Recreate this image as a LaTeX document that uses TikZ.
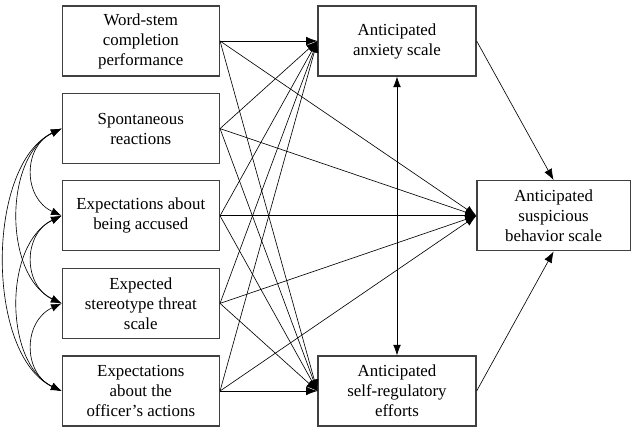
\documentclass[tikz,border=0pt]{standalone}
\usepackage{fontspec}
\setmainfont{Liberation Serif}
\usetikzlibrary{arrows.meta}

\begin{document}
\begin{tikzpicture}[
		var/.style={draw=black!75, line width=0.9pt, align=center, minimum height=1.75cm, inner sep=2pt, font=\fontsize{12}{14.2}\selectfont},
		pred/.style={var, minimum width=3.93cm},
		path/.style={line width=0.45pt, -{Latex[length=8pt, width=6pt]}},
		cov/.style={line width=0.45pt, {Latex[length=7.5pt, width=5.5pt]}-{Latex[length=7.5pt, width=5.5pt]}}
	]
			%%%%% START %%%%%
			
			\useasboundingbox (0, 0) rectangle (15.775, 10.775);
			
			% predictors
			\node[pred] (wordstem) at (3.52, 9.75) {Word-stem\\completion\\performance};
			\node[pred] (spont) at (3.52, 7.56) {Spontaneous\\reactions};
			\node[pred] (accused) at (3.52, 5.38) {Expectations about\\being accused};
			\node[pred] (threat) at (3.52, 3.19) {Expected\\stereotype threat\\scale};
			\node[pred] (officer) at (3.52, 1.0) {Expectations\\about the\\officer’s actions};
			
			% mediators and outcome
			\node[var, minimum width=3.95cm] (anxiety) at (9.925, 9.75) {Anticipated\\anxiety scale};
			\node[var, minimum width=3.95cm] (selfreg) at (9.925, 1.0) {Anticipated\\self-regulatory\\efforts};
			\node[var, minimum width=3.83cm] (suspic) at (13.84, 5.38) {Anticipated\\suspicious\\behavior scale};
			
			% paths from the predictors
			\draw[path] (wordstem.east) -- (anxiety.west);
			\draw[path] (wordstem.east) -- (suspic.west);
			\draw[path] (wordstem.east) -- (selfreg.west);
			
			\draw[path] (spont.east) -- (anxiety.west);
			\draw[path] (spont.east) -- (suspic.west);
			\draw[path] (spont.east) -- (selfreg.west);
			
			\draw[path] (accused.east) -- (anxiety.west);
			\draw[path] (accused.east) -- (suspic.west);
			\draw[path] (accused.east) -- (selfreg.west);
			
			\draw[path] (threat.east) -- (anxiety.west);
			\draw[path] (threat.east) -- (suspic.west);
			\draw[path] (threat.east) -- (selfreg.west);
			
			\draw[path] (officer.east) -- (anxiety.west);
			\draw[path] (officer.east) -- (suspic.west);
			\draw[path] (officer.east) -- (selfreg.west);
			
			% mediators to outcome
			\draw[path] (anxiety.east) -- (suspic.north);
			\draw[path] (selfreg.east) -- (suspic.south);
			\draw[cov] (anxiety.south) -- (selfreg.north);
			
			% covariances between the predictors
			\draw[cov] (spont.west) .. controls +(-0.97, -0.45) and +(-0.97, 0.45) .. (accused.west);
			\draw[cov] (accused.west) .. controls +(-0.97, -0.45) and +(-0.97, 0.45) .. (threat.west);
			\draw[cov] (threat.west) .. controls +(-0.97, -0.45) and +(-0.97, 0.45) .. (officer.west);
			\draw[cov] (spont.west) .. controls +(-1.45, -0.7) and +(-1.45, 0.7) .. (threat.west);
			\draw[cov] (accused.west) .. controls +(-1.45, -0.7) and +(-1.45, 0.7) .. (officer.west);
			\draw[cov] (spont.west) .. controls +(-1.9, -0.9) and +(-1.9, 0.9) .. (officer.west);
			
			%%%%% END %%%%%
		\end{tikzpicture}
\end{document}
